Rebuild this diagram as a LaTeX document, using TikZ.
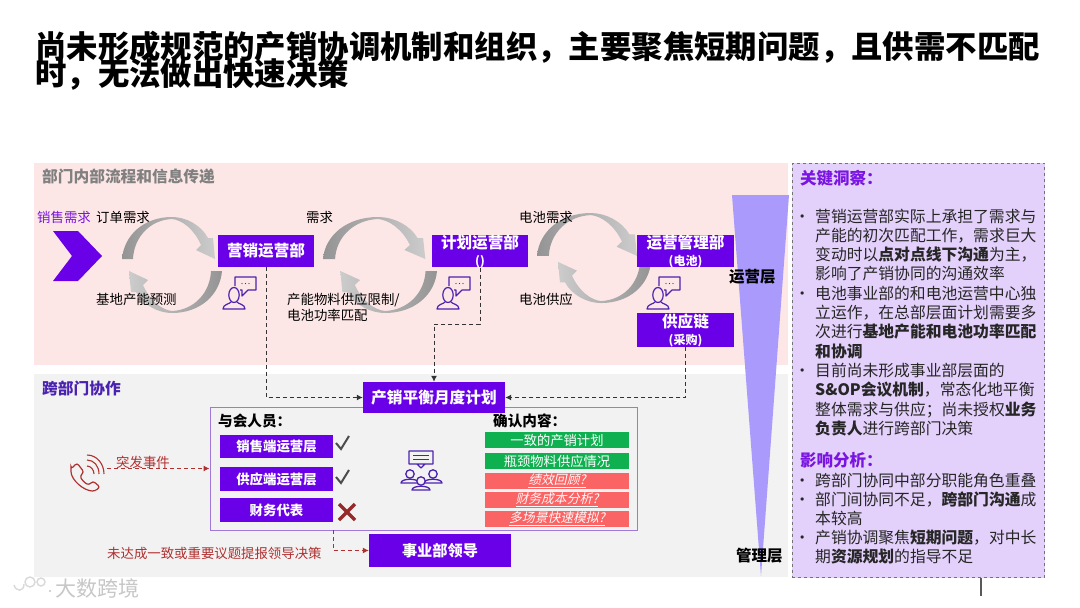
\documentclass[tikz,border=0pt]{standalone}
\usepackage{fontspec}
\setmainfont{Noto Sans CJK SC}
\newfontfamily\slantcjk[AutoFakeSlant=0.22]{Noto Sans CJK SC}
\usetikzlibrary{arrows.meta,calc}
\newcommand\pxs[1]{\fontsize{#1}{#1}\selectfont}
\definecolor{pboxc}{HTML}{6A00E8}
\definecolor{pinkbg}{HTML}{FDE7E6}
\definecolor{graybg}{HTML}{F2F2F2}
\definecolor{panelc}{HTML}{E3D0FB}
\definecolor{funnelc}{HTML}{A99AFB}
\definecolor{iconc}{HTML}{4B22B0}
\definecolor{titlep}{HTML}{7A14E0}
\definecolor{darkred}{HTML}{B03030}
\definecolor{greenb}{HTML}{0FB050}
\definecolor{redb}{HTML}{FB6464}
\definecolor{meetb}{HTML}{A078D8}
\tikzset{
  pboxs/.style={fill=pboxc,text=white,inner sep=0,align=center,font=\bfseries},
  lab/.style={inner sep=0,anchor=west,text=black},
  dashk/.style={dash pattern=on 4pt off 3pt,line width=1pt,draw=black!80,-{Latex[length=6pt,width=6pt]}},
  dashr/.style={dash pattern=on 4pt off 3pt,line width=1pt,draw=darkred,-{Latex[length=6pt,width=6pt]}},
  gbox/.style={fill=greenb,text=white,inner sep=0,minimum width=144pt,minimum height=16pt},
  rbox/.style={fill=redb,text=white!90!pink,inner sep=0,minimum width=144pt,minimum height=16pt},
  sbox/.style={fill=pboxc,text=white,inner sep=0,minimum width=113pt,minimum height=23.5pt,font=\bfseries\pxs{13.4}},
  iconl/.style={draw=iconc,line width=1.2pt,line join=round},
  pics/personchat/.style={code={
    \draw[iconl] (0,0) ellipse (5.2pt and 7.5pt);
    \draw[iconl] (-3,7) .. controls (-4,9) and (-11,9) .. (-11,14) -- (11,14) .. controls (11,9) and (4,9) .. (3,7);
    \draw[iconl] (1,-9) -- (1,-18) -- (22,-18) -- (22,-5) -- (14,-5) -- (8,1) -- (8,-5) -- (6,-5);
    \fill[iconc] (8,-11.5) circle (.7pt) (11.5,-11.5) circle (.7pt) (15,-11.5) circle (.7pt);
  }},
}
% cx, cy, xscale, yscale, rotation, left shade, right shade
\newcommand\crescent[7]{%
 \begin{scope}[shift={(#1,#2)},xscale=#3,yscale=#4,rotate=#5]
  \shade[left color=#6,right color=#7]
   (-50,-6) .. controls (-48,-30) and (-28,-48) .. (0,-48)
   .. controls (14,-48) and (29,-40) .. (36,-27) -- (41,-27) -- (43,-6) -- (24,-15) -- (29,-20)
   .. controls (22,-36) and (10,-45) .. (0,-46)
   .. controls (-22,-45) and (-38,-28) .. (-39,-6) -- cycle;
 \end{scope}}
\begin{document}
\begin{tikzpicture}[x=1pt,y=-1pt]
\useasboundingbox (0,0) rectangle (1080,608);
\fill[white] (0,0) rectangle (1080,608);
% title
\node[lab,font=\bfseries\pxs{31.4}] (title1) at (35,47) {尚未形成规范的产销协调机制和组织，主要聚焦短期问题，且供需不匹配};
\node[lab,font=\bfseries\pxs{31.4}] (title2) at (35,74) {时，无法做出快速决策};
% backgrounds
\fill[pinkbg] (34,163) rectangle (788,365);
\fill[graybg] (34,374) rectangle (788,577);
\node[lab,text=black!50,font=\bfseries\pxs{15.7}] (t1) at (42,177) {部门内部流程和信息传递};
\node[lab,text=iconc,font=\bfseries\pxs{15.7}] (t2) at (42,388) {跨部门协作};
% funnel
\fill[funnelc] (732,195) -- (789,195) -- (761,576) -- cycle;
\node[lab,font=\bfseries\pxs{15.5}] (l1) at (729,277) {运营层};
\node[lab,font=\bfseries\pxs{15.5}] (l2) at (736,556) {管理层};
% chevron
\fill[pboxc] (53,231) -- (78,231) -- (102,256) -- (78,281) -- (53,281) -- (72,256) -- cycle;
% cycle arrows
\crescent{172}{265}{1}{1}{0}{black!42}{black!20}
\crescent{172}{265}{1}{1}{180}{black!20}{black!42}
\crescent{378}{265}{1.1}{1}{0}{black!42}{black!20}
\crescent{385}{265}{1.04}{1}{180}{black!20}{black!42}
\crescent{590.75}{262}{1.075}{1.02}{0}{black!42}{black!20}
\crescent{601}{256}{1}{.98}{180}{black!20}{black!42}
% top labels
\node[lab,text=titlep,font=\pxs{13.4}] (a1) at (37,217) {销售需求};
\node[lab,font=\pxs{13.4}] (a2) at (96,217) {订单需求};
\node[lab,font=\pxs{13.4}] (a3) at (96,299) {基地产能预测};
\node[lab,font=\pxs{13.4}] (a4) at (306,217) {需求};
\node[lab,font=\fontsize{13.4}{16}\selectfont,align=left] (a5) at (287,307) {产能物料供应限制/\\电池功率匹配};
\node[lab,font=\pxs{13.4}] (a6) at (519,217) {电池需求};
\node[lab,font=\pxs{13.4}] (a7) at (519,299) {电池供应};
% department boxes
\node[pboxs,minimum width=96.5pt,minimum height=32pt,font=\bfseries\pxs{15.6}] (mk) at (266,251) {营销运营部};
\node[pboxs,minimum width=96.5pt,minimum height=32pt,font=\bfseries\fontsize{15.6}{17}\selectfont] (ji) at (480,251) {计划运营部\\\fontsize{12}{17}\selectfont ()};
\node[pboxs,minimum width=97pt,minimum height=32pt,font=\bfseries\fontsize{15.6}{17}\selectfont] (yy) at (685.5,251) {运营管理部\\\fontsize{12}{17}\selectfont (电池)};
\node[pboxs,minimum width=97pt,minimum height=32pt,font=\bfseries\fontsize{15.6}{17}\selectfont] (gy) at (685.5,330) {供应链\\\fontsize{12}{17}\selectfont (采购)};
% person icons
\pic at (234,295) {personchat};
\pic at (448,295) {personchat};
\pic at (658,295) {personchat};
% meeting frame
\node[draw=meetb,line width=1pt,minimum width=427pt,minimum height=123pt,inner sep=0] (meet) at (423.5,468.5) {};
\node[pboxs,minimum width=142pt,minimum height=31pt,font=\bfseries\pxs{15.7}] (plan) at (434,397.5) {产销平衡月度计划};
\node[pboxs,minimum width=142pt,minimum height=33pt,font=\bfseries\pxs{15.2}] (lead) at (440,550.5) {事业部领导};
\node[lab,font=\bfseries\pxs{14.6}] (b1) at (218,420.5) {与会人员：};
\node[sbox] (s1) at (276.5,446.5) {销售端运营层};
\node[sbox] (s2) at (276.5,479) {供应端运营层};
\node[sbox] (s3) at (276.5,510) {财务代表};
\draw[black!70,line width=2pt] (336,443) -- (341,449) -- (349,436);
\draw[black!70,line width=2pt] (336,477) -- (341,483) -- (349,470);
\draw[darkred!85!black,line width=3.4pt] (339,504) -- (355,520) (355,504) -- (339,520);
\node[lab,font=\bfseries\pxs{14.6}] (b2) at (493,420.5) {确认内容：};
\node[gbox,font=\pxs{13.3}] (g1) at (557,440) {一致的产销计划};
\node[gbox,font=\pxs{13.3}] (g2) at (557,461) {瓶颈物料供应情况};
\node[rbox,font=\slantcjk\itshape\pxs{12.8}] (r1) at (557,481) {\underline{绩效回顾?}};
\node[rbox,font=\slantcjk\itshape\pxs{12.8}] (r2) at (557,500) {\underline{财务成本分析?}};
\node[rbox,font=\slantcjk\itshape\pxs{12.8}] (r3) at (557,519) {\underline{多场景快速模拟?}};
% meeting icon
\draw[iconl,line width=1.3pt] (409,451) rectangle (433,464) (417,464) -- (421,468) -- (425,464);
\draw[iconl,line width=1pt] (413,455) -- (429,455) (413,459.5) -- (429,459.5);
\foreach \hx/\hy in {410/474,433/474,421/481}{
  \draw[iconl,fill=graybg,line width=1.3pt] (\hx,\hy) circle (4.2pt);
  \draw[iconl,fill=graybg,line width=1.3pt] (\hx-9,\hy+9) .. controls (\hx-9,\hy+4) and (\hx+9,\hy+4) .. (\hx+9,\hy+9) -- cycle;
}
% phone
\draw[darkred,line width=1.2pt,rounded corners=2.5pt] (71,469) -- (77,463) -- (84,472) -- (80,476) .. controls (82,480) and (85,483) .. (89,485) -- (93,481) -- (100,487) -- (95,491) .. controls (84,491) and (71,480) .. (71,469) -- cycle;
\draw[darkred,line width=1.1pt] (87,466) .. controls (91,466) and (94,470) .. (94,474);
\draw[darkred,line width=1.1pt] (87,460) .. controls (94,460) and (99,466) .. (99,474);
\draw[darkred,line width=1.1pt] (87,455) .. controls (97,455) and (104,464) .. (104,474);
% red labels
\node[lab,text=darkred,font=\pxs{13.4}] (c1) at (116,462) {突发事件};
\node[lab,text=darkred,font=\pxs{13.4}] (c2) at (107,553.5) {未达成一致或重要议题提报领导决策};
% connectors
\coordinate (ph) at (107,468.5);
\coordinate (m1) at (333,530);
\coordinate (j2) at (434,324);
\draw[dashk] (mk.south) |- (plan.west);
\draw[dashk] (ji.south) |- (j2) -- (plan.north);
\draw[dashk] (gy.south) |- (plan.east);
\draw[dashr] (ph) -- (meet.west);
\draw[dashr] (m1) |- (lead.west);
% insight panel
\node[draw=black!55,dashed,line width=.8pt,fill=panelc,minimum width=252.5pt,minimum height=414.5pt,inner sep=0] (panel) at (918.25,370.25) {};
\node[lab,text=titlep,font=\bfseries\pxs{16.5}] (p1) at (800,178) {关键洞察：};
\node[inner sep=0,anchor=north west,align=left,text=black!85,font=\fontsize{15.8}{19.3}\selectfont] (p2) at (815,208.5) {%
\leavevmode\llap{•\hspace{5pt}}营销运营部实际上承担了需求与\\
产能的初次匹配工作，需求巨大\\
变动时以\textbf{点对点线下沟通}为主，\\
影响了产销协同的沟通效率\\
\leavevmode\llap{•\hspace{5pt}}电池事业部的和电池运营中心独\\
立运作，在总部层面计划需要多\\
次进行\textbf{基地产能和电池功率匹配}\\
\textbf{和协调}\\
\leavevmode\llap{•\hspace{5pt}}目前尚未形成事业部层面的\\
\textbf{S\&OP会议机制}，常态化地平衡\\
整体需求与供应；尚未授权\textbf{业务}\\
\textbf{负责人}进行跨部门决策};
\node[lab,text=titlep,font=\bfseries\pxs{16.5}] (p3) at (800,460) {影响分析：};
\node[inner sep=0,anchor=north west,align=left,text=black!85,font=\fontsize{15.8}{19}\selectfont] (p4) at (815,473) {%
\leavevmode\llap{•\hspace{5pt}}跨部门协同中部分职能角色重叠\\
\leavevmode\llap{•\hspace{5pt}}部门间协同不足，\textbf{跨部门沟通}成\\
本较高\\
\leavevmode\llap{•\hspace{5pt}}产销协调聚焦\textbf{短期问题}，对中长\\
期\textbf{资源规划}的指导不足};
\draw[black!65,line width=1.4pt] (981,578) -- (981,596);
% watermark
\node[lab,text=black!22,font=\pxs{21}] (wm) at (55,588) {大数跨境};
\draw[black!15,line width=1.4pt] (14,585) .. controls (16,592) and (24,592) .. (24,584) (30,582) circle (5pt) (41,582) circle (4pt);
\fill[black!22] (50,591) circle (1.2pt);
\end{tikzpicture}
\end{document}
